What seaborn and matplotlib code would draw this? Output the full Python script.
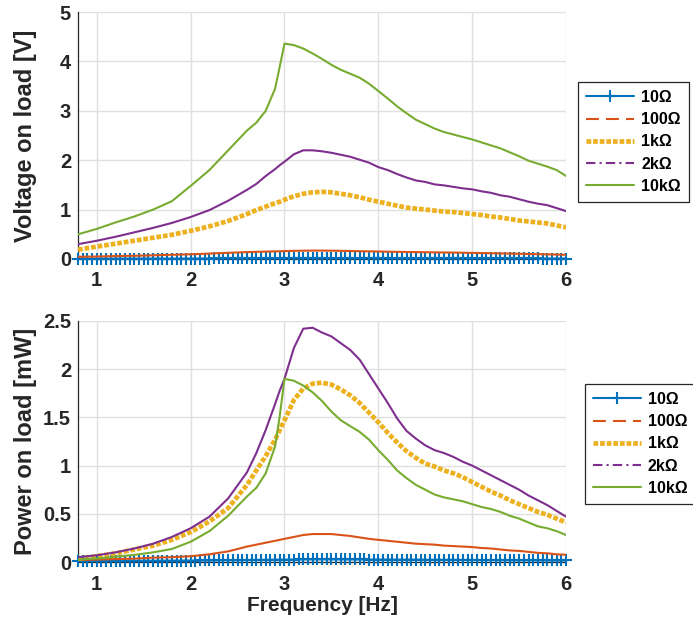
import numpy as np
import pandas as pd
import matplotlib
matplotlib.use("Agg")
import matplotlib.pyplot as plt
from matplotlib.lines import Line2D
import seaborn as sns

# Sampled excitation frequencies [Hz]
freq = [0.8, 1.0, 1.2, 1.4, 1.6, 1.8, 2.0, 2.2, 2.4, 2.6, 2.7, 2.8, 2.9, 2.95,
        3.0, 3.1, 3.2, 3.3, 3.4, 3.5, 3.6, 3.7, 3.8, 3.9, 4.0, 4.1, 4.2, 4.3,
        4.4, 4.5, 4.6, 4.7, 4.8, 4.9, 5.0, 5.1, 5.2, 5.3, 5.4, 5.5, 5.6, 5.7,
        5.8, 5.9, 6.0]

# Finer sweep used for the 10 Ohm load
freq_fine = np.round(np.arange(0.8, 6.0001, 0.05), 2)

labels = ["10Ω", "100Ω", "1kΩ", "2kΩ", "10kΩ"]

# Voltage on load [V]
v_10 = [0.005, 0.005, 0.005, 0.006, 0.006, 0.006, 0.006, 0.006, 0.007, 0.007, 0.007, 0.007, 0.007, 0.007, 0.008,
        0.008, 0.008, 0.008, 0.008, 0.008, 0.009, 0.009, 0.009, 0.009, 0.009, 0.010, 0.010, 0.010, 0.010, 0.011,
        0.011, 0.011, 0.012, 0.012, 0.012, 0.012, 0.013, 0.013, 0.013, 0.014, 0.014, 0.014, 0.015, 0.015, 0.015,
        0.016, 0.016, 0.016, 0.016, 0.017, 0.017, 0.017, 0.017, 0.016, 0.016, 0.016, 0.016, 0.016, 0.016, 0.016,
        0.016, 0.015, 0.015, 0.015, 0.015, 0.015, 0.015, 0.015, 0.014, 0.014, 0.014, 0.014, 0.014, 0.014, 0.014,
        0.014, 0.013, 0.013, 0.013, 0.013, 0.013, 0.013, 0.013, 0.013, 0.012, 0.012, 0.012, 0.012, 0.012, 0.012,
        0.012, 0.012, 0.011, 0.011, 0.011, 0.011, 0.011, 0.011, 0.011, 0.010, 0.010, 0.010, 0.010, 0.010, 0.010]
v_100 = [0.045, 0.050, 0.060, 0.065, 0.075, 0.085, 0.095, 0.110, 0.125, 0.140, 0.145, 0.150, 0.155, 0.157,
         0.160, 0.165, 0.168, 0.170, 0.170, 0.168, 0.165, 0.162, 0.158, 0.155, 0.152, 0.148, 0.145, 0.142,
         0.140, 0.137, 0.135, 0.132, 0.130, 0.127, 0.124, 0.120, 0.117, 0.113, 0.110, 0.106, 0.102, 0.098,
         0.094, 0.090, 0.085]
v_1k = [0.19, 0.25, 0.31, 0.37, 0.43, 0.49, 0.57, 0.66, 0.77, 0.91, 0.99, 1.06, 1.13, 1.16,
        1.20, 1.27, 1.32, 1.35, 1.36, 1.35, 1.32, 1.29, 1.25, 1.20, 1.16, 1.12, 1.08, 1.04,
        1.02, 1.00, 0.98, 0.96, 0.95, 0.93, 0.91, 0.89, 0.86, 0.84, 0.81, 0.78, 0.76, 0.74,
        0.72, 0.68, 0.64]
v_2k = [0.30, 0.37, 0.45, 0.54, 0.63, 0.73, 0.85, 0.99, 1.18, 1.40, 1.52, 1.68, 1.82, 1.90,
        1.97, 2.12, 2.20, 2.20, 2.18, 2.15, 2.11, 2.07, 2.01, 1.95, 1.86, 1.80, 1.72, 1.65,
        1.59, 1.56, 1.51, 1.49, 1.46, 1.43, 1.41, 1.37, 1.34, 1.29, 1.26, 1.21, 1.16, 1.12,
        1.09, 1.03, 0.97]
v_10k = [0.50, 0.61, 0.74, 0.86, 1.00, 1.17, 1.48, 1.80, 2.20, 2.60, 2.76, 3.00, 3.45, 3.90,
         4.36, 4.33, 4.26, 4.16, 4.05, 3.93, 3.83, 3.75, 3.67, 3.55, 3.40, 3.25, 3.09, 2.95,
         2.82, 2.73, 2.64, 2.57, 2.52, 2.47, 2.42, 2.36, 2.30, 2.24, 2.16, 2.08, 1.99, 1.93,
         1.87, 1.80, 1.68]

# Power on load [mW]
p_10 = [0.010, 0.010, 0.010, 0.011, 0.011, 0.011, 0.011, 0.011, 0.012, 0.012, 0.012, 0.012, 0.012, 0.012, 0.013,
        0.013, 0.013, 0.013, 0.013, 0.014, 0.014, 0.014, 0.014, 0.015, 0.015, 0.015, 0.016, 0.016, 0.016, 0.017,
        0.017, 0.018, 0.018, 0.019, 0.019, 0.020, 0.020, 0.021, 0.021, 0.022, 0.022, 0.023, 0.023, 0.024, 0.024,
        0.025, 0.025, 0.026, 0.026, 0.027, 0.027, 0.027, 0.027, 0.027, 0.027, 0.027, 0.027, 0.026, 0.026, 0.026,
        0.026, 0.026, 0.025, 0.025, 0.025, 0.025, 0.025, 0.025, 0.024, 0.024, 0.024, 0.024, 0.024, 0.024, 0.023,
        0.023, 0.023, 0.023, 0.022, 0.022, 0.022, 0.022, 0.021, 0.021, 0.021, 0.020, 0.020, 0.020, 0.020, 0.019,
        0.019, 0.019, 0.019, 0.018, 0.018, 0.018, 0.018, 0.017, 0.017, 0.017, 0.017, 0.016, 0.016, 0.016, 0.016]
p_100 = [0.020, 0.025, 0.030, 0.035, 0.045, 0.050, 0.060, 0.080, 0.110, 0.160, 0.180, 0.200, 0.220, 0.230,
         0.240, 0.260, 0.280, 0.290, 0.290, 0.290, 0.280, 0.270, 0.255, 0.240, 0.230, 0.220, 0.210, 0.200,
         0.190, 0.185, 0.180, 0.170, 0.165, 0.160, 0.155, 0.145, 0.140, 0.130, 0.120, 0.115, 0.105, 0.095,
         0.090, 0.080, 0.075]
p_1k = [0.035, 0.06, 0.09, 0.13, 0.17, 0.23, 0.31, 0.42, 0.56, 0.80, 0.95, 1.10, 1.27, 1.37,
        1.47, 1.68, 1.80, 1.85, 1.86, 1.84, 1.79, 1.73, 1.65, 1.55, 1.45, 1.34, 1.24, 1.15,
        1.08, 1.02, 0.99, 0.95, 0.92, 0.88, 0.83, 0.78, 0.73, 0.69, 0.64, 0.60, 0.56, 0.52,
        0.49, 0.45, 0.41]
p_2k = [0.05, 0.07, 0.10, 0.14, 0.19, 0.26, 0.35, 0.47, 0.66, 0.93, 1.13, 1.37, 1.64, 1.78,
        1.90, 2.22, 2.42, 2.43, 2.38, 2.34, 2.27, 2.20, 2.10, 1.95, 1.80, 1.65, 1.49, 1.36,
        1.28, 1.21, 1.16, 1.13, 1.09, 1.04, 1.00, 0.95, 0.90, 0.85, 0.80, 0.75, 0.69, 0.64,
        0.59, 0.53, 0.47]
p_10k = [0.025, 0.037, 0.055, 0.074, 0.10, 0.135, 0.21, 0.32, 0.48, 0.68, 0.77, 0.92, 1.20, 1.52,
         1.90, 1.88, 1.83, 1.76, 1.67, 1.56, 1.47, 1.41, 1.35, 1.27, 1.16, 1.06, 0.95, 0.87,
         0.80, 0.75, 0.70, 0.67, 0.65, 0.63, 0.60, 0.57, 0.55, 0.52, 0.48, 0.45, 0.41, 0.37,
         0.35, 0.32, 0.28]

colors = ["#0072BD", "#D95319", "#EDB120", "#7E2F8E", "#77AC30"]
dotted = (0, (1.0, 0.4))
styles = [
    dict(linestyle="-", linewidth=1.5),
    dict(linestyle="-", linewidth=1.5),
    dict(linestyle=dotted, linewidth=3.4),
    dict(linestyle="-", linewidth=1.5),
    dict(linestyle="-", linewidth=1.5),
]
legend_styles = [
    dict(linestyle="-", linewidth=1.5, marker="+", markersize=9, markeredgewidth=1.5),
    dict(linestyle=(0, (6.2, 3.4)), linewidth=1.5),
    dict(linestyle=dotted, linewidth=3.4),
    dict(linestyle=(0, (4.5, 2, 1, 2)), linewidth=1.5),
    dict(linestyle="-", linewidth=1.5),
]

sns.set_theme(style="white")
plt.rcParams["font.family"] = ["Liberation Sans", "DejaVu Sans"]
plt.rcParams["font.weight"] = "bold"
plt.rcParams["axes.labelweight"] = "bold"

fig = plt.figure(figsize=(6.93, 6.25), dpi=100)
ax1 = fig.add_axes([0.1126, 0.5856, 0.7042, 0.3952])
ax2 = fig.add_axes([0.1126, 0.1008, 0.7042, 0.3856])

text_col = "#262626"


def draw_panel(ax, fine_vals, series, ylim, yticks, yticklabels, ylabel, legend_anchor):
    all_vals = [fine_vals] + series
    for i, vals in enumerate(all_vals):
        x = freq_fine if i == 0 else freq
        n_before = len(ax.lines)
        sns.lineplot(x=x, y=vals, ax=ax, color=colors[i], legend=False, **styles[i])
        line = ax.lines[n_before]
        line.set_color(colors[i])
        line.set_zorder(3 + i)
        if i == 0:
            # 10 Ohm trace: plus markers, allowed to spill past the axes frame
            line.set_marker("+")
            line.set_markersize(9)
            line.set_markeredgewidth(1.5)
            line.set_markeredgecolor(colors[0])
            line.set_markerfacecolor(colors[0])
            line.set_clip_on(False)
    ax.set_xlim(0.8, 6.0)
    ax.set_ylim(*ylim)
    ax.set_xticks([1, 2, 3, 4, 5, 6])
    ax.set_xticklabels(["1", "2", "3", "4", "5", "6"])
    ax.set_yticks(yticks)
    ax.set_yticklabels(yticklabels)
    ax.grid(True, color="#e0e0e0", linewidth=1.0, zorder=0)
    ax.set_axisbelow(True)
    for side in ("top", "right"):
        ax.spines[side].set_visible(False)
    for side in ("left", "bottom"):
        ax.spines[side].set_color("#262626")
        ax.spines[side].set_linewidth(0.9)
        ax.spines[side].set_zorder(2)
    ax.tick_params(axis="both", direction="in", length=4, width=0.8, colors=text_col,
                   labelsize=14.5)
    ax.tick_params(axis="x", pad=9)
    ax.tick_params(axis="y", pad=5)
    for lab in ax.get_xticklabels() + ax.get_yticklabels():
        lab.set_fontweight("bold")
    ax.set_ylabel(ylabel, fontsize=17, fontweight="bold", color=text_col)
    ax.yaxis.set_label_coords(-0.084, 0.5)
    ax.set_xlabel("")

    handles = [Line2D([0], [0], color=colors[i], **legend_styles[i]) for i in range(5)]
    leg = ax.legend(handles, labels, loc="upper left", bbox_to_anchor=legend_anchor,
                    bbox_transform=fig.transFigure, frameon=True, fancybox=False,
                    framealpha=1, edgecolor="#262626", handlelength=3.0,
                    labelspacing=0.45, borderpad=0.5, handletextpad=0.45,
                    borderaxespad=0, prop=dict(size=11.5, weight="bold"))
    leg.get_frame().set_linewidth(0.9)
    for t in leg.get_texts():
        t.set_color("black")


draw_panel(ax1, v_10, [v_100, v_1k, v_2k, v_10k], (0, 5), [0, 1, 2, 3, 4, 5],
           ["0", "1", "2", "3", "4", "5"], "Voltage on load [V]", (0.834, 0.8688))
draw_panel(ax2, p_10, [p_100, p_1k, p_2k, p_10k], (0, 2.5), [0, 0.5, 1, 1.5, 2, 2.5],
           ["0", "0.5", "1", "1.5", "2", "2.5"], "Power on load [mW]", (0.844, 0.3856))
ax2.set_xlabel("Frequency [Hz]", fontsize=15, fontweight="bold", color=text_col, labelpad=2)

fig.savefig("out.png", dpi=100)
